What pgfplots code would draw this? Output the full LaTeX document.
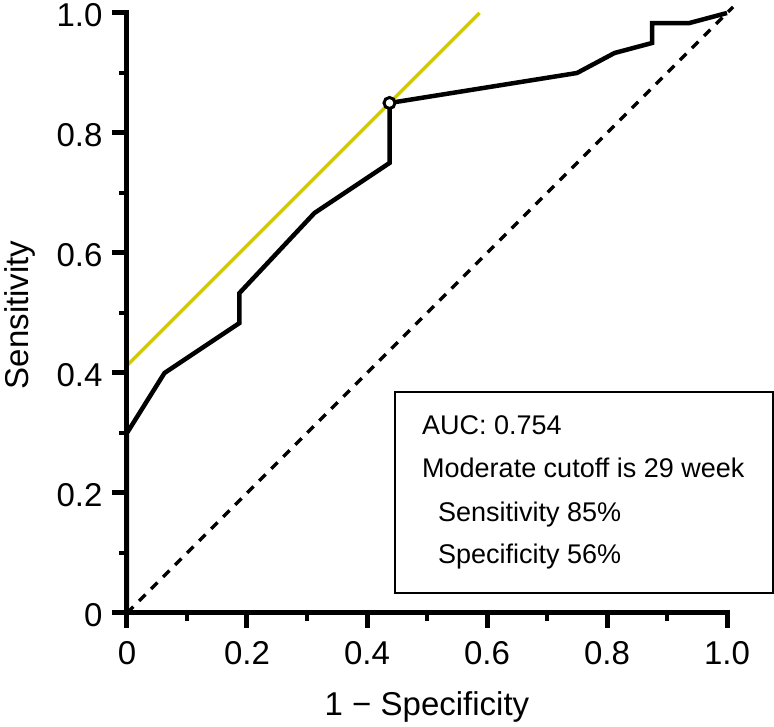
\documentclass[border=0pt]{standalone}
\usepackage{fontspec}
\setmainfont{Liberation Sans}
\usepackage{pgfplots}
\pgfplotsset{compat=1.18}
\definecolor{yel}{RGB}{210,202,0}
\begin{document}
\begin{tikzpicture}
\begin{axis}[
  scale only axis, width=600pt, height=600pt,
  xmin=0, xmax=1, ymin=0, ymax=1,
  axis x line=bottom, axis y line=left,
  axis line style={-, line width=5pt, line cap=rect},
  clip=false,
  xtick={0,0.2,0.4,0.6,0.8,1}, ytick={0,0.2,0.4,0.6,0.8,1},
  xticklabels={0,0.2,0.4,0.6,0.8,1.0}, yticklabels={0,0.2,0.4,0.6,0.8,1.0},
  minor xtick={0.1,0.3,0.5,0.7,0.9}, minor ytick={0.1,0.3,0.5,0.7,0.9},
  tick align=outside, major tick length=15pt, minor tick length=8pt,
  major tick style={line width=5pt, black},
  minor tick style={line width=4.5pt, black},
  /pgf/number format/assume math mode=true,
  tick label style={font=\fontsize{33}{35}\selectfont},
  xticklabel style={yshift=-10pt},
  yticklabel style={xshift=-6pt, yshift=-2pt},
  xlabel={1 − Specificity}, ylabel={Sensitivity},
  label style={font=\fontsize{33}{36}\selectfont},
  x label style={at={(axis description cs:0.5,-0.157)}, anchor=center},
  y label style={at={(axis description cs:-0.178,0.497)}, anchor=center},
]
\addplot[black, line width=3.5pt, dash pattern=on 9pt off 8pt] coordinates {(0,0) (1.01,1.01)};
\addplot[yel, line width=3.5pt] coordinates {(0,0.4125) (0.5875,1)};
\addplot[black, line width=4.5pt, line join=miter] coordinates {
(0,0) (0,0.3) (0.0625,0.4) (0.1875,0.4833) (0.1875,0.5333) (0.3125,0.6667)
(0.4375,0.75) (0.4375,0.85) (0.75,0.9) (0.8125,0.9333) (0.875,0.95)
(0.875,0.9833) (0.9375,0.9833) (1,1)};
\addplot[only marks, mark=*, mark size=5.5pt, mark options={fill=white, draw=black, line width=3pt}] coordinates {(0.4375,0.85)};
\draw[line width=5pt, line cap=rect, line join=miter] (axis cs:0,1) -- (axis cs:0,0) -- (axis cs:1,0);
\draw[line width=1.8pt] (axis cs:0.447,0.033) rectangle (axis cs:1.077,0.368);
\begin{scope}[every node/.style={anchor=base west, inner sep=0pt, font=\fontsize{27}{30}\selectfont}]
\node at (axis cs:0.4917,0.297) {AUC: 0.754};
\node at (axis cs:0.4917,0.225) {Moderate cutoff is 29 week};
\node at (axis cs:0.518,0.152) {Sensitivity 85\%};
\node at (axis cs:0.518,0.083) {Specificity 56\%};
\end{scope}
\end{axis}
\pgfresetboundingbox
\useasboundingbox (-127pt,-114pt) rectangle (647pt,613pt);
\end{tikzpicture}
\end{document}
